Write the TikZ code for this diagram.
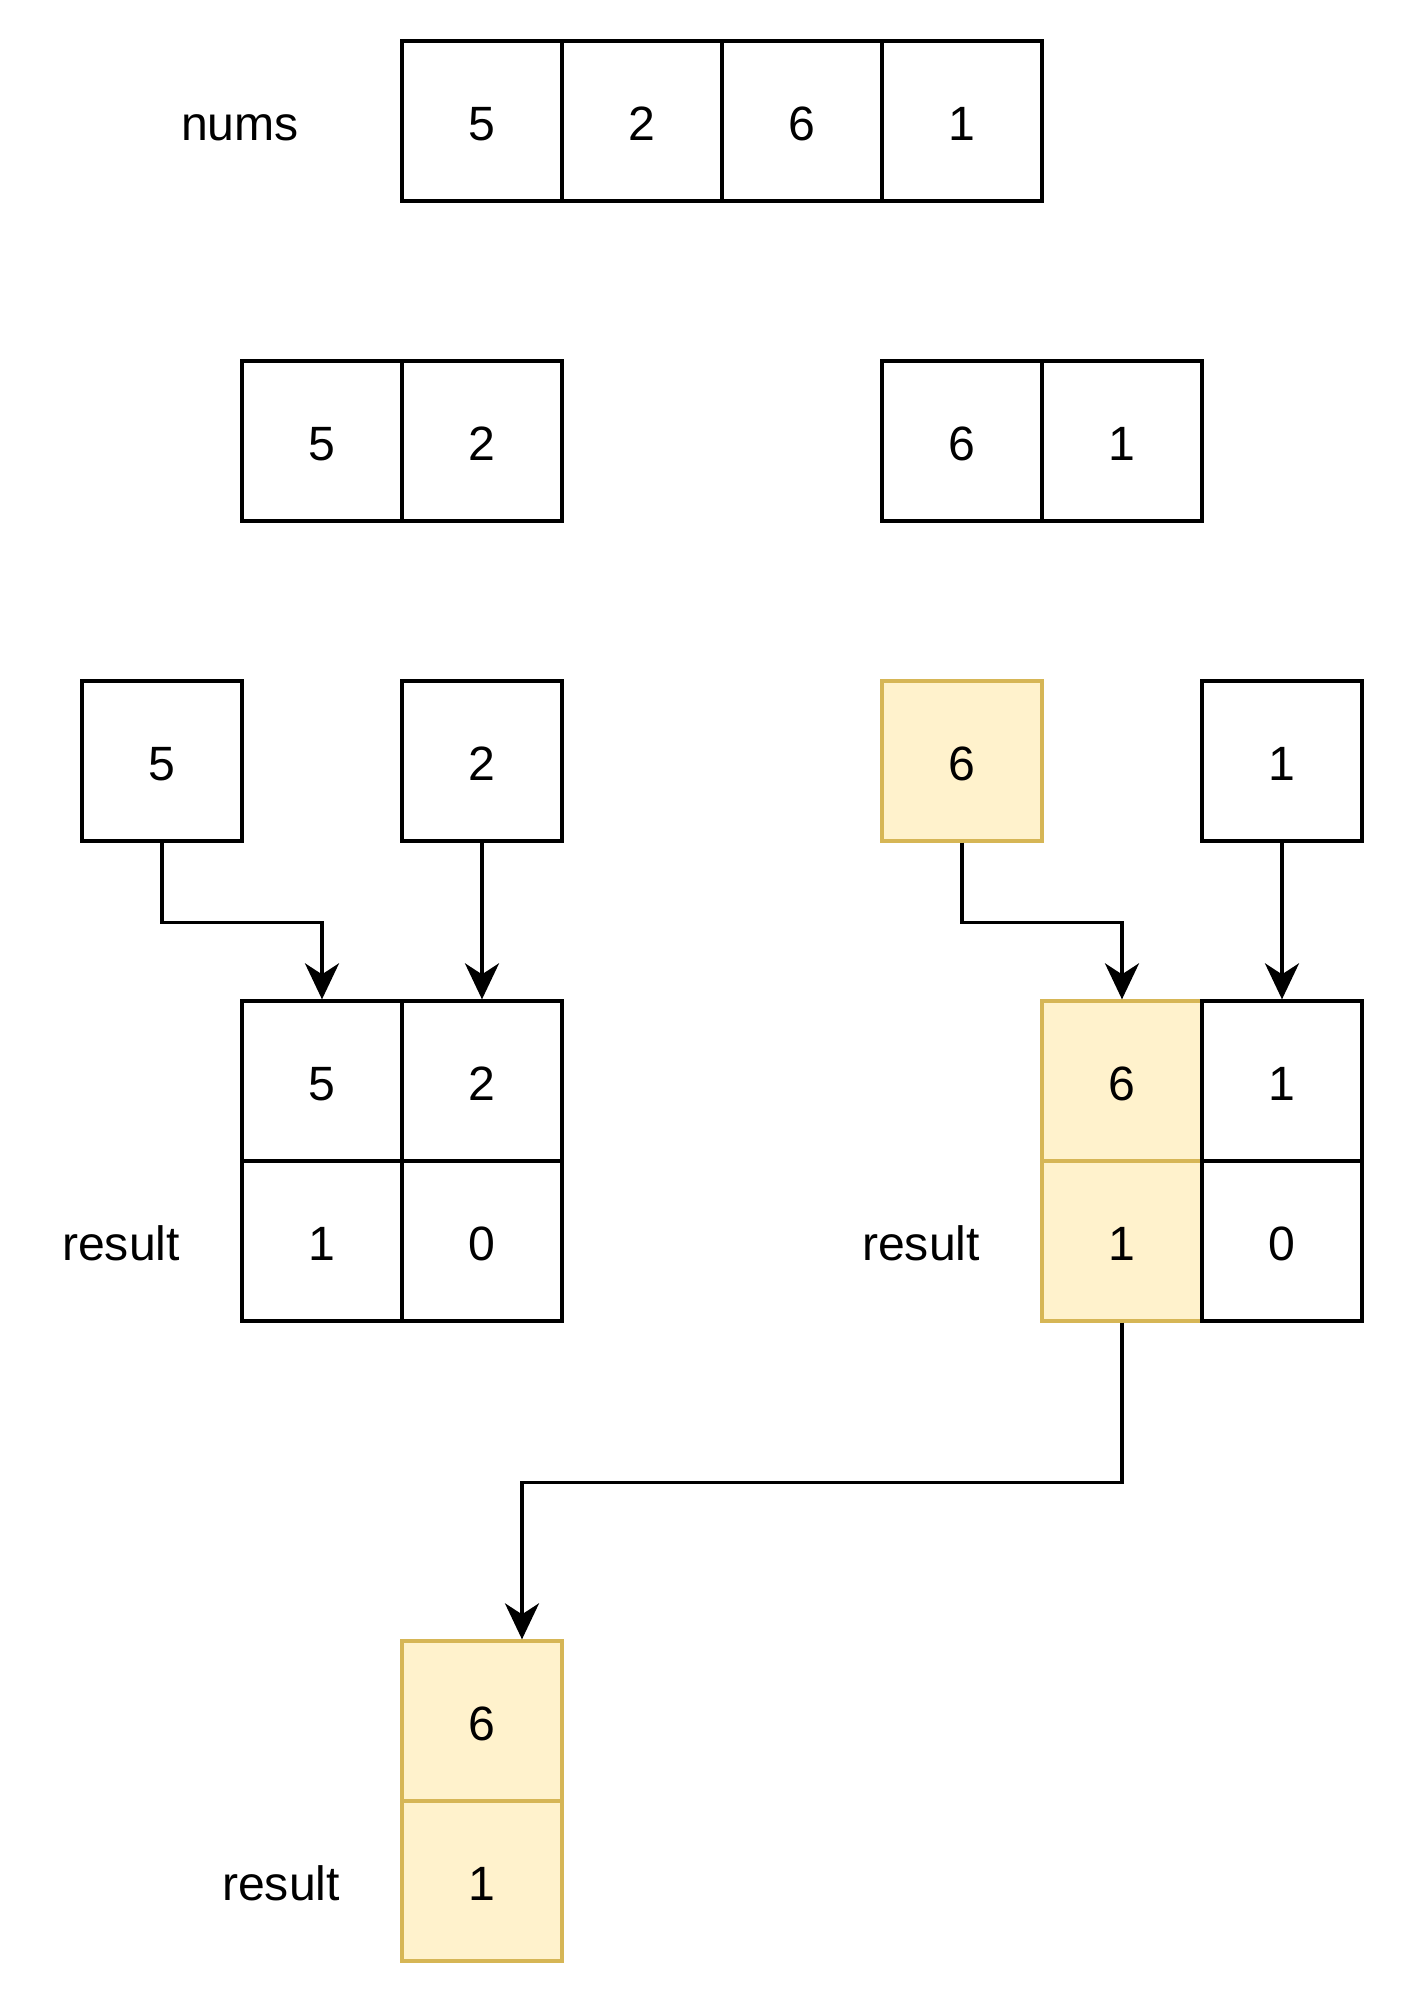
\documentclass[tikz,border=0pt]{standalone}
\usepackage{fontspec}
\setmainfont{Liberation Sans}
\usetikzlibrary{arrows.meta}
\definecolor{hfill}{HTML}{FFF2CC}
\definecolor{hstroke}{HTML}{D6B656}

\begin{document}
\begin{tikzpicture}[x=1.6cm, y=-1.6cm,
    txt/.style={font=\fontsize{13.7pt}{16pt}\selectfont, text height=11pt, text depth=0pt},
    cell/.style={txt, rectangle, draw, line width=0.95pt, fill=white, minimum size=1.6cm, inner sep=0pt},
    hcell/.style={cell, draw=hstroke, fill=hfill},
    lbl/.style={txt, inner sep=0pt},
    flow/.style={line width=0.95pt, -{Stealth[length=3.6mm, width=3.4mm, inset=1.1mm]}}]
    \useasboundingbox (-1.0125,-0.75625) rectangle (7.7625,11.76875);

    % Input array
    \node[lbl] (numslbl) at (0.4875,0) {nums};
    \node[cell] (n1) at (2,0) {5};
    \node[cell] (n2) at (3,0) {2};
    \node[cell] (n3) at (4,0) {6};
    \node[cell] (n4) at (5,0) {1};

    % First split
    \node[cell] (la) at (1,2) {5};
    \node[cell] (lb) at (2,2) {2};
    \node[cell] (ra) at (5,2) {6};
    \node[cell] (rb) at (6,2) {1};

    % Single elements
    \node[cell] (s5) at (0,4) {5};
    \node[cell] (s2) at (2,4) {2};
    \node[hcell] (s6) at (5,4) {6};
    \node[cell] (s1) at (7,4) {1};

    % Left merge with result
    \node[cell] (lv5) at (1,6) {5};
    \node[cell] (lv2) at (2,6) {2};
    \node[cell] (lr1) at (1,7) {1};
    \node[cell] (lr0) at (2,7) {0};
    \node[lbl] (lres) at (-0.256,7) {result};

    % Right merge with result
    \node[hcell] (rv6) at (6,6) {6};
    \node[hcell] (rr1) at (6,7) {1};
    \node[cell] (rv1) at (7,6) {1};
    \node[cell] (rr0) at (7,7) {0};
    \node[lbl] (rres) at (4.744,7) {result};

    % Final answer
    \node[hcell] (fv6) at (2,10) {6};
    \node[hcell] (fr1) at (2,11) {1};
    \node[lbl] (fres) at (0.744,11) {result};
    \coordinate (fin) at ([xshift=4mm]fv6.north);

    % Draw connections
    \draw[flow] (s5.south) -- ++(0,0.5) -| (lv5.north);
    \draw[flow] (s2.south) -- (lv2.north);
    \draw[flow] (s6.south) -- ++(0,0.5) -| (rv6.north);
    \draw[flow] (s1.south) -- (rv1.north);
    \draw[flow] (rr1.south) -- ++(0,1) -| (fin);
\end{tikzpicture}
\end{document}
